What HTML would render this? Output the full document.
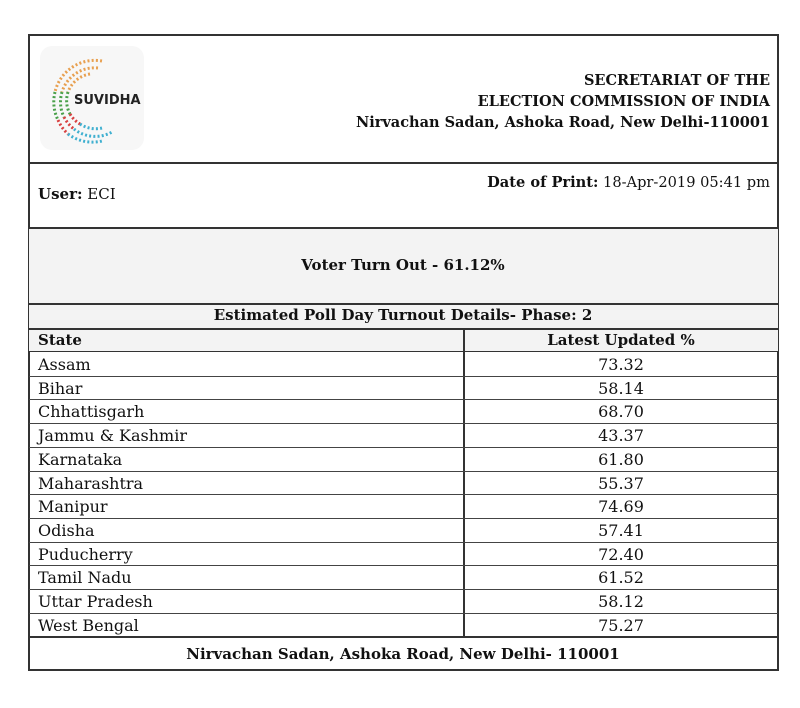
<!DOCTYPE html>
<html><head><style>
body{margin:0;width:800px;height:708px;background:#fff;font-family:"DejaVu Serif","Liberation Serif",serif;color:#111;position:relative;overflow:hidden}
.b{position:absolute;box-sizing:border-box}
.t{position:absolute;font-size:15px;white-space:nowrap}
.r{font-size:16px}
.bold{font-weight:bold}
</style></head><body>
<div class="b" style="left:28px;top:34px;width:751px;height:637px;border:2px solid #333"></div>
<div class="b" style="left:28px;top:162px;width:751px;height:2px;background:#333"></div>
<div class="b" style="left:29px;top:227px;width:749px;height:76px;background:#f3f3f3;border-top:2px solid #333"></div>
<div class="b" style="left:29px;top:303px;width:749px;height:25px;background:#f3f3f3;border-top:2px solid #333"></div>
<div class="b" style="left:29px;top:328px;width:749px;height:24px;background:#f3f3f3;border-top:2px solid #333;border-bottom:1px solid #333"></div>
<div class="b" style="left:29px;top:636px;width:749px;height:2px;background:#333"></div>
<div class="b" style="left:463px;top:329px;width:1.5px;height:308px;background:#333"></div>
<div class="b" style="left:40px;top:46px;width:104px;height:104px;border-radius:12px;background:#f7f7f7"></div>
<svg class="b" style="left:40px;top:46px" width="104" height="104">
<g fill="none" stroke-width="3" stroke-dasharray="2 2.2">
<path d="M50 28 A28 28 0 0 0 28 46" stroke="#e8a050"/>
<path d="M58 22 A34 34 0 0 0 22 46" stroke="#e8a050"/>
<path d="M62 15 A41 41 0 0 0 15 46" stroke="#e8a050"/>
<path d="M28 46 A28 28 0 0 0 30 68 M22 46 A34 34 0 0 0 24 71 M15 46 A41 41 0 0 0 18 74" stroke="#4aa04a"/>
<path d="M30 68 A28 28 0 0 0 40 78 M24 71 A34 34 0 0 0 34 83 M18 74 A41 41 0 0 0 28 88" stroke="#d84040"/>
<path d="M40 78 A28 28 0 0 0 62 82 M34 83 A34 34 0 0 0 72 86 M28 88 A41 41 0 0 0 62 95" stroke="#40b0d0"/>
</g>
<text x="34" y="58" font-family="DejaVu Sans,sans-serif" font-weight="bold" font-size="13" fill="#222">SUVIDHA</text>
</svg>
<div class="t bold" style="right:30px;top:70px;text-align:right;line-height:21px;font-size:14.5px">SECRETARIAT OF THE<br>ELECTION COMMISSION OF INDIA<br>Nirvachan Sadan, Ashoka Road, New Delhi-110001</div>
<div class="t" style="left:38px;top:185px"><b>User:</b> ECI</div>
<div class="t" style="right:30px;top:174px;font-size:14.6px"><b>Date of Print:</b> 18-Apr-2019 05:41 pm</div>
<div class="t bold" style="left:0;width:806px;text-align:center;top:256px">Voter Turn Out - 61.12%</div>
<div class="t bold" style="left:0;width:806px;text-align:center;top:306px">Estimated Poll Day Turnout Details- Phase: 2</div>
<div class="t bold" style="left:38px;top:331px">State</div>
<div class="t bold" style="left:464px;width:314px;text-align:center;top:331px">Latest Updated %</div>
<div id="rows"></div>
<div class="t bold" style="left:0;width:806px;text-align:center;top:645px">Nirvachan Sadan, Ashoka Road, New Delhi- 110001</div>
<script>
var d=[["Assam","73.32"],["Bihar","58.14"],["Chhattisgarh","68.70"],["Jammu & Kashmir","43.37"],["Karnataka","61.80"],["Maharashtra","55.37"],["Manipur","74.69"],["Odisha","57.41"],["Puducherry","72.40"],["Tamil Nadu","61.52"],["Uttar Pradesh","58.12"],["West Bengal","75.27"]];
var h="";d.forEach(function(r,i){var y=352+i*23.7;
h+='<div class="t r" style="left:38px;top:'+(y+3)+'px">'+r[0].replace("&","&amp;")+'</div><div class="t r" style="left:464px;width:314px;text-align:center;top:'+(y+3)+'px">'+r[1]+'</div>';
if(i>0)h+='<div class="b" style="left:29px;width:749px;height:1px;background:#444;top:'+y+'px"></div>';});
document.getElementById("rows").innerHTML=h;
</script>
</body></html>
